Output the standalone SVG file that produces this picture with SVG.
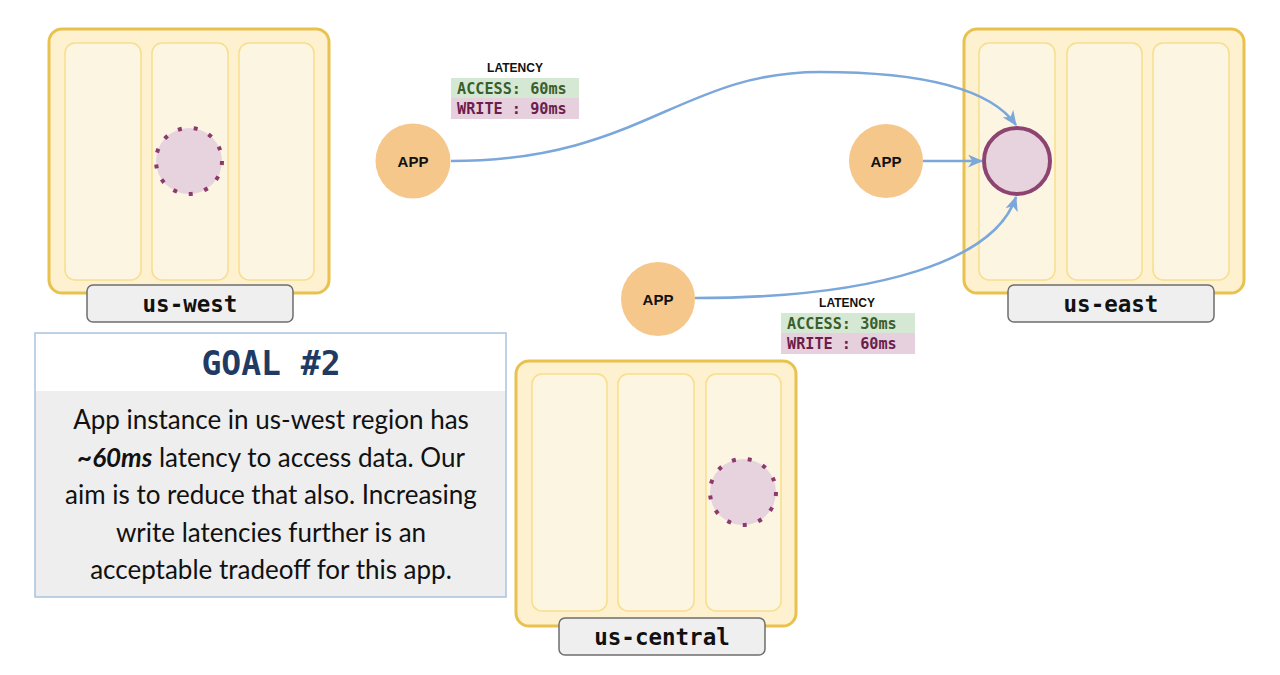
<svg xmlns="http://www.w3.org/2000/svg" width="1280" height="675" viewBox="0 0 1280 675">
  <defs>
    <marker id="arrow" viewBox="0 0 14 12" refX="13" refY="6" markerWidth="15" markerHeight="13" markerUnits="userSpaceOnUse" orient="auto">
      <path d="M0,0 L14,6 L0,12 L4,6 Z" fill="#7ba7db"/>
    </marker>
    <style>
      .region { fill: #fdf1cf; stroke: #e9c14e; stroke-width: 3; }
      .zone { fill: #fcf5e2; stroke: #f8de8c; stroke-width: 1.5; }
      .tag { fill: #efefef; stroke: #6e6e6e; stroke-width: 1.5; }
      .tagtext { font-family: "DejaVu Sans Mono", "Liberation Mono", monospace; font-weight: bold; font-size: 22.5px; fill: #111; text-anchor: middle; }
      .replica { fill: #e6d3de; stroke: #8b3a6b; stroke-width: 4; stroke-dasharray: 4 12; }
      .leader { fill: #e6d3de; stroke: #8d4470; stroke-width: 4; }
      .app { fill: #f5c78a; }
      .apptext { font-family: "Liberation Sans", Arial, sans-serif; font-weight: bold; font-size: 15px; fill: #111; text-anchor: middle; }
      .edge { fill: none; stroke: #7ba7db; stroke-width: 2.5; marker-end: url(#arrow); }
      .lathead { font-family: "Liberation Sans", Arial, sans-serif; font-weight: bold; font-size: 12px; fill: #111; text-anchor: middle; }
      .latrow { font-family: "DejaVu Sans Mono", "Liberation Mono", monospace; font-weight: bold; font-size: 15.2px; }
      .acc { fill: #d5e8d4; }
      .wr { fill: #e6d0de; }
      .acct { fill: #3b5e2b; }
      .wrt { fill: #6b1d4b; }
      .body { font-family: Lato, "Noto Sans", sans-serif; font-size: 26px; fill: #111; text-anchor: middle; }
    </style>
  </defs>

  <rect width="1280" height="675" fill="#ffffff"/>

  <!-- us-west region -->
  <g id="us-west">
    <rect class="region" x="49" y="29" width="280" height="264" rx="13"/>
    <rect class="zone" x="65" y="43" width="76" height="237" rx="10"/>
    <rect class="zone" x="152" y="43" width="76" height="237" rx="10"/>
    <rect class="zone" x="239" y="43" width="75" height="237" rx="10"/>
    <circle class="replica" cx="189" cy="161" r="33"/>
    <rect class="tag" x="87" y="285" width="206" height="37" rx="6"/>
    <text class="tagtext" x="190" y="312">us-west</text>
  </g>

  <!-- us-east region -->
  <g id="us-east">
    <rect class="region" x="964" y="29" width="280" height="264" rx="13"/>
    <rect class="zone" x="979" y="43" width="76" height="237" rx="10"/>
    <rect class="zone" x="1067" y="43" width="75" height="237" rx="10"/>
    <rect class="zone" x="1153" y="43" width="76" height="237" rx="10"/>
    <circle class="leader" cx="1017" cy="161" r="33"/>
    <rect class="tag" x="1008" y="285" width="206" height="37" rx="6"/>
    <text class="tagtext" x="1111" y="312">us-east</text>
  </g>

  <!-- us-central region -->
  <g id="us-central">
    <rect class="region" x="516" y="361" width="280" height="265" rx="13"/>
    <rect class="zone" x="532" y="374" width="75" height="237" rx="10"/>
    <rect class="zone" x="618" y="374" width="76" height="237" rx="10"/>
    <rect class="zone" x="706" y="374" width="75" height="237" rx="10"/>
    <circle class="replica" cx="743" cy="492" r="33"/>
    <rect class="tag" x="559" y="618" width="206" height="37" rx="6"/>
    <text class="tagtext" x="662" y="645">us-central</text>
  </g>

  <!-- connectors -->
  <g id="connectors">
    <path class="edge" d="M451,161 C640,161 680,72 820,72 C920,72 990,88 1016,125"/>
    <path class="edge" d="M923,161 L982,161"/>
    <path class="edge" d="M695,298 C880,298 995,260 1016,197"/>
  </g>

  <!-- application instances -->
  <g id="app-west">
    <circle class="app" cx="413" cy="161" r="37.5"/>
    <text class="apptext" x="413" y="166.5">APP</text>
  </g>
  <g id="app-east">
    <circle class="app" cx="886" cy="161" r="37"/>
    <text class="apptext" x="886" y="166.5">APP</text>
  </g>
  <g id="app-central">
    <circle class="app" cx="658" cy="299" r="37"/>
    <text class="apptext" x="658" y="304.5">APP</text>
  </g>

  <!-- latency for us-west app -->
  <g id="latency-west">
    <text class="lathead" x="515" y="72">LATENCY</text>
    <rect class="acc" x="451" y="78" width="128" height="20"/>
    <rect class="wr" x="451" y="98" width="128" height="21"/>
    <text class="latrow acct" x="457" y="93.5">ACCESS: 60ms</text>
    <text class="latrow wrt" x="457" y="114">WRITE : 90ms</text>
  </g>

  <!-- latency for us-central app -->
  <g id="latency-central">
    <text class="lathead" x="847" y="307">LATENCY</text>
    <rect class="acc" x="781" y="313" width="134" height="20"/>
    <rect class="wr" x="781" y="333" width="134" height="21"/>
    <text class="latrow acct" x="787" y="328.5">ACCESS: 30ms</text>
    <text class="latrow wrt" x="787" y="349">WRITE : 60ms</text>
  </g>

  <!-- goal card -->
  <g id="goal">
    <rect x="35" y="333" width="471" height="264" fill="#eeeeee"/>
    <rect x="35" y="333" width="471" height="58" fill="#ffffff"/>
    <rect x="35" y="333" width="471" height="264" fill="none" stroke="#a9c4e0" stroke-width="1.5"/>
    <text x="271" y="375" font-family="DejaVu Sans Mono, Liberation Mono, monospace" font-weight="bold" font-size="33" fill="#1f3b63" text-anchor="middle">GOAL #2</text>
    <text class="body" x="271" y="429">App instance in us-west region has</text>
    <text class="body" x="271" y="467"><tspan font-weight="bold" font-style="italic">~60ms</tspan> latency to access data. Our</text>
    <text class="body" x="271" y="504">aim is to reduce that also. Increasing</text>
    <text class="body" x="271" y="542">write latencies further is an</text>
    <text class="body" x="271" y="579">acceptable tradeoff for this app.</text>
  </g>
</svg>
